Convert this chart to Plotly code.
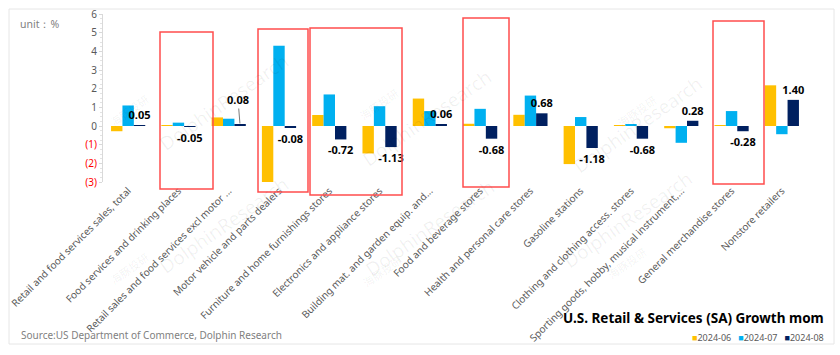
import plotly.graph_objects as go

categories = [
    "Retail and food services sales, total",
    "Food services and drinking places",
    "Retail sales and food services excl motor ...",
    "Motor vehicle and parts dealers",
    "Furniture and home furnishings stores",
    "Electronics and appliance stores",
    "Building mat. and garden equip. and...",
    "Food and beverage stores",
    "Health and personal care stores",
    "Gasoline stations",
    "Clothing and clothing access. stores",
    "Sporting goods, hobby, musical instrument,...",
    "General merchandise stores",
    "Nonstore retailers",
]
jun_2024 = [-0.28, 0.05, 0.46, -3.00, 0.59, -1.47, 1.47, 0.12, 0.60, -2.04, 0.05, -0.12, 0.02, 2.18]
jul_2024 = [1.10, 0.18, 0.39, 4.30, 1.69, 1.06, 0.80, 0.92, 1.63, 0.48, 0.09, -0.90, 0.80, -0.44]
aug_2024 = [0.05, -0.05, 0.08, -0.08, -0.72, -1.13, 0.06, -0.68, 0.68, -1.18, -0.68, 0.28, -0.28, 1.40]
series_names = ["2024-06", "2024-07", "2024-08"]
series_colors = ["#FFC000", "#00B0F0", "#002060"]
y_tickvals = [-3, -2, -1, 0, 1, 2, 3, 4, 5, 6]
y_ticktext = ["(3)", "(2)", "(1)", "0", "1", "2", "3", "4", "5", "6"]
leader_idx = 2  # label drawn with a leader line

W, H = 840, 355
ML, MR, MT, MB = 103, 33, 14, 173
PW, PH = W - ML - MR, H - MT - MB


def px(x):
    return (x - ML) / PW


def py(y):
    return (H - MB - y) / PH


FONT = "Noto Sans"
fig = go.Figure()
for name, vals, col in zip(series_names, [jun_2024, jul_2024, aug_2024], series_colors):
    kw = {}
    if name == "2024-08":
        kw = dict(
            text=["" if i == leader_idx else f"<b>{v:.2f}</b>" for i, v in enumerate(vals)],
            textposition="outside",
            textfont=dict(family=FONT, size=11, color="#000000"),
            constraintext="none",
            cliponaxis=False,
        )
    fig.add_trace(go.Bar(x=categories, y=vals, name=name, marker=dict(color=col, line=dict(width=0)),
                         showlegend=False, hoverinfo="skip", **kw))

ticktext_col = [f"<span style='color:#FF0000'>{t}</span>" if t.startswith("(") else t for t in y_ticktext]

fig.update_layout(
    width=W, height=H,
    margin=dict(l=ML, r=MR, t=MT, b=MB, autoexpand=False),
    paper_bgcolor="white", plot_bgcolor="white",
    barmode="group", bargap=0.32, bargroupgap=0,
    font=dict(family=FONT, size=10, color="#595959"),
    xaxis=dict(range=[-0.5, 13.5], tickangle=-45, showgrid=False, showline=False, ticks="",
               tickfont=dict(family=FONT, size=10, color="#595959"), automargin=False),
    yaxis=dict(range=[-3, 6], tickvals=y_tickvals, ticktext=ticktext_col, showgrid=False,
               zeroline=False, showline=True, linecolor="#D9D9D9", linewidth=1,
               ticks="outside", ticklen=3, tickcolor="#D9D9D9",
               minor=dict(dtick=0.25, ticks="outside", ticklen=2, tickcolor="#E3E3E3"),
               tickfont=dict(family=FONT, size=10, color="#595959"), automargin=False),
)

shapes = []
# outer frame
shapes.append(dict(type="rect", xref="paper", yref="paper", x0=px(9), x1=px(834), y0=py(344), y1=py(9),
                   line=dict(color="#E6E6E6", width=1), layer="below"))
# red highlight boxes
for x0, x1, y0, y1 in [(160, 213, 32, 189), (258, 308, 29, 192), (310, 402, 28, 195),
                       (463, 509, 18, 187), (713, 764, 21, 184)]:
    shapes.append(dict(type="rect", xref="paper", yref="paper", x0=px(x0), x1=px(x1), y0=py(y1), y1=py(y0),
                       line=dict(color="#FF4D4D", width=1.5)))
fig.update_layout(shapes=shapes)

ann = []
# watermarks
for cx, cy in [(152, 102), (427, 118), (710, 125), (152, 282), (430, 285), (700, 277)]:
    ann.append(dict(x=px(cx), y=py(cy), xref="paper", yref="paper", text="DolphinResearch", showarrow=False,
                    textangle=-35, font=dict(family=FONT, size=19, color="rgba(0,0,0,0.06)")))
    ann.append(dict(x=px(cx - 48), y=py(cy + 8), xref="paper", yref="paper", text="海豚投研", showarrow=False,
                    textangle=-35, font=dict(family="Noto Sans CJK SC", size=11, color="rgba(0,0,0,0.06)")))
# data label with leader line
ann.append(dict(x=categories[leader_idx], y=aug_2024[leader_idx], xref="x", yref="y", xshift=11.3,
                text=f"<b>{aug_2024[leader_idx]:.2f}</b>", showarrow=True, arrowhead=0, arrowwidth=0.8,
                arrowcolor="#595959", ax=-2, ay=-25, standoff=1,
                font=dict(family=FONT, size=11, color="#000000")))
ann.append(dict(x=px(18), y=py(24), xref="paper", yref="paper", xanchor="left", yanchor="middle",
                text="unit：%", showarrow=False, font=dict(family=FONT, size=10.5, color="#7F7F7F")))
ann.append(dict(x=px(19), y=py(335), xref="paper", yref="paper", xanchor="left", yanchor="middle",
                text="Source:US Department of Commerce, Dolphin Research", showarrow=False,
                font=dict(family=FONT, size=10, color="#7F7F7F")))
ann.append(dict(x=px(826), y=py(318), xref="paper", yref="paper", xanchor="right", yanchor="middle",
                text="<b>U.S. Retail &amp; Services (SA) Growth mom</b>", showarrow=False,
                font=dict(family=FONT, size=13.5, color="#000000")))
legend_txt = "&nbsp;&nbsp;&nbsp;".join(
    f"<span style='color:{c}'>■</span>{n}" for n, c in zip(series_names, series_colors))
ann.append(dict(x=px(826), y=py(337), xref="paper", yref="paper", xanchor="right", yanchor="middle",
                text=legend_txt, showarrow=False, font=dict(family=FONT, size=9, color="#595959")))
fig.update_layout(annotations=ann)

fig.write_html("out.html", config={"displayModeBar": False},
               post_script="document.body.style.margin='0';document.body.style.overflow='hidden';")
